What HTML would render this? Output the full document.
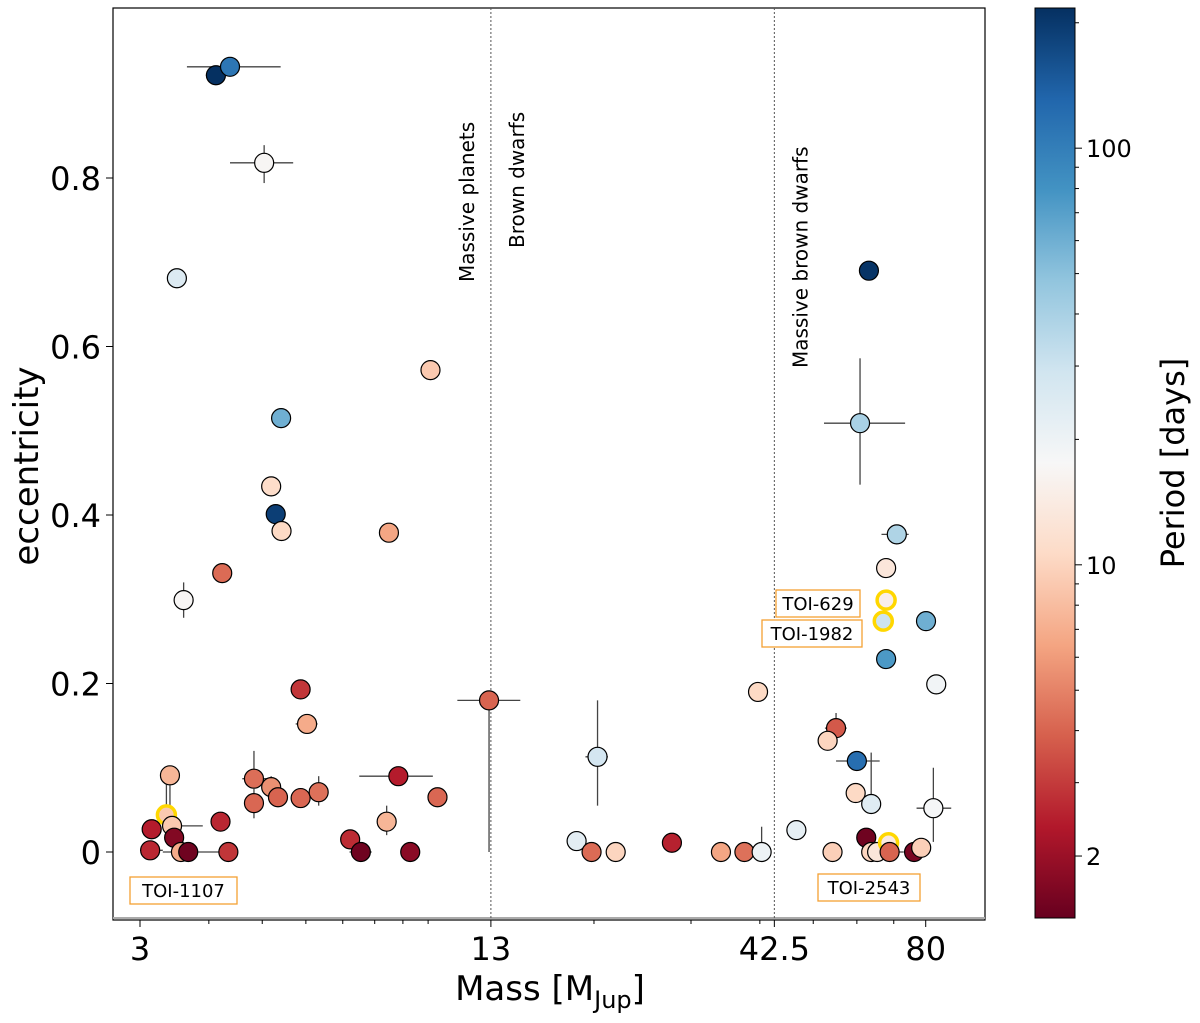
<!DOCTYPE html>
<html><head><meta charset="utf-8"><style>
body{margin:0;background:#fff;}
svg text{font-family:"DejaVu Sans","Liberation Sans",sans-serif;}
</style></head><body>
<svg id="c" width="1200" height="1018" xmlns="http://www.w3.org/2000/svg">
<defs>
<linearGradient id="cbg" x1="0" y1="1" x2="0" y2="0">
<stop offset="0" stop-color="#67001f"/><stop offset="0.1" stop-color="#b2182b"/><stop offset="0.2" stop-color="#d6604d"/><stop offset="0.3" stop-color="#f4a582"/><stop offset="0.4" stop-color="#fddbc7"/><stop offset="0.5" stop-color="#f7f7f7"/><stop offset="0.6" stop-color="#d1e5f0"/><stop offset="0.7" stop-color="#92c5de"/><stop offset="0.8" stop-color="#4393c3"/><stop offset="0.9" stop-color="#2166ac"/><stop offset="1" stop-color="#053061"/>
</linearGradient>
</defs>
<g id="plot"></g>
</svg>
<script>
const masses=[4.12,4.37,5.04,3.50,63.1,60.8,5.41,10.1,5.19,5.29,5.42,8.49,4.23,3.60,70.9,67.8,67.8,67.0,80.1,67.8,83.6,5.87,6.03,12.9,39.7,55.0,53.1,60.0,20.3,59.7,63.7,82.6,3.40,3.35,3.43,3.15,3.46,3.13,3.56,3.67,4.34,4.20,4.83,4.83,5.19,5.34,5.87,6.33,7.22,7.55,8.41,8.83,9.28,10.4,18.6,19.8,21.9,27.7,34.0,37.5,40.3,46.6,54.2,62.4,63.7,65.3,68.5,68.8,76.2,78.5];
const eccs=[0.922,0.932,0.818,0.681,0.690,0.509,0.515,0.572,0.434,0.401,0.381,0.379,0.331,0.299,0.377,0.337,0.299,0.274,0.274,0.229,0.199,0.193,0.152,0.180,0.190,0.147,0.132,0.108,0.113,0.070,0.057,0.052,0.091,0.044,0.031,0.027,0.017,0.002,0,0,0,0.036,0.087,0.058,0.077,0.065,0.064,0.071,0.015,0,0.036,0.090,0,0.065,0.013,0,0,0.011,0,0,0,0.026,0,0.017,0,0,0.011,0,0,0.005];
const periods=[217,110,17,25,210,40,60,9,11,190,10.5,6.5,4.2,17,38,13,15,30,60,75,19,2.9,6.8,4,10.5,3.7,10,120,28,10.5,24,18,7.5,9,9,2.4,1.7,2.6,6.8,1.5,2.9,2.6,4.3,4.1,5.5,4.0,4.1,4.4,2.7,1.5,7.5,2.4,1.8,4.1,23,4.2,10,2.5,6.5,4.4,20,22,9.5,1.5,10,13,14,4,1.6,9.5];
const ringIdx=[16,17,33,66];
// errors: [index, mlo, mhi, elo, ehi]
const errs=[[0,3.95,4.3,0.922,0.922],[1,3.65,5.40,0.932,0.932],[2,4.37,5.69,0.794,0.839],[3,3.40,3.62,0.681,0.681],[13,3.60,3.60,0.278,0.320],[5,52.3,73.4,0.436,0.586],[14,66.5,74.5,0.377,0.377],[20,80.5,87,0.199,0.199],[22,5.75,6.3,0.152,0.152],[23,11.3,14.7,0,0.180],[28,19.3,21.2,0.055,0.18],[25,52.5,57.5,0.128,0.165],[27,55,66,0.108,0.108],[30,63.7,63.7,0.057,0.118],[31,77,89,0.012,0.1],[51,7.5,10.2,0.090,0.090],[42,4.6,5.1,0.087,0.12],[43,4.83,4.83,0.04,0.075],[44,5.19,5.19,0.077,0.09],[47,6.33,6.33,0.055,0.09],[50,8.41,8.41,0.02,0.055],[53,10.0,10.8,0.065,0.065],[33,3.35,3.35,0.044,0.08],[34,3.43,3.9,0.031,0.031],[37,3.0,3.3,0.002,0.002],[38,3.3,4.5,0,0],[49,7.2,7.9,0,0],[35,3.12,3.2,0.027,0.027],[60,40.3,40.3,0,0.03],[61,45.5,47.5,0.026,0.026],[32,3.40,3.40,0.05,0.091],[63,61,64,0.017,0.017],[67,63,73,0,0],[69,76,81,0.005,0.005]];
const xTicks=[3,13,42.5,80];
const xTickLabels=["3","13","42.5","80"];
const yTicks=[0,0.2,0.4,0.6,0.8];
const yTickLabels=["0","0.2","0.4","0.6","0.8"];
const cTicks=[100,10,2];
const cTickLabels=["100","10","2"];
const vLines=[13,42.5];
const regionLabels=[{t:"Massive planets",m:13,side:-1,end:282},{t:"Brown dwarfs",m:13,side:1,end:248},{t:"Massive brown dwarfs",m:42.5,side:1,end:368}];
const toiLabels=[{t:"TOI-1107",bx:130,by:877,w:107},{t:"TOI-629",bx:776,by:590,w:84},{t:"TOI-1982",bx:762,by:620,w:100},{t:"TOI-2543",bx:818,by:874,w:102}];

const NS="http://www.w3.org/2000/svg";
const X=m=>140+551*(Math.log10(m)-Math.log10(3));
const Y=e=>852-842.5*e;
const PMIN=1.42,PMAX=217;
const CY=p=>918-910*(Math.log10(p/PMIN)/Math.log10(PMAX/PMIN));
const stops=["#67001f","#b2182b","#d6604d","#f4a582","#fddbc7","#f7f7f7","#d1e5f0","#92c5de","#4393c3","#2166ac","#053061"].map(h=>[parseInt(h.substr(1,2),16),parseInt(h.substr(3,2),16),parseInt(h.substr(5,2),16)]);
function cmap(p){let t=Math.log10(p/PMIN)/Math.log10(PMAX/PMIN);t=Math.max(0,Math.min(1,t))*10;const i=Math.min(9,Math.floor(t)),f=t-i;const a=stops[i],b=stops[i+1];return`rgb(${a.map((v,k)=>Math.round(v+(b[k]-v)*f)).join(",")})`;}
const g=document.getElementById('plot');
function el(tag,attrs,parent){const e=document.createElementNS(NS,tag);for(const k in attrs)e.setAttribute(k,attrs[k]);(parent||g).appendChild(e);return e;}

const frame=el('rect',{x:113,y:8,width:872,height:912,fill:'#fff',stroke:'#000','stroke-width':1.2});


el('line',{x1:113,y1:918,x2:985,y2:918,stroke:'#aaa','stroke-width':2});
vLines.forEach(m=>{const l=el('line',{x1:X(m),y1:8,x2:X(m),y2:920,stroke:'#555','stroke-width':1,'stroke-dasharray':'2,2'});

});
regionLabels.forEach(r=>{const x=X(r.m)+r.side*25;const t=el('text',{x:0,y:0,transform:`translate(${x+8},${r.end}) rotate(-90)`,'font-size':20,fill:'#000'});t.textContent=r.t;

});
// ticks
xTicks.forEach((m,i)=>{el('line',{x1:X(m),y1:920,x2:X(m),y2:927,stroke:'#000'});const t=el('text',{x:X(m),y:960,'font-size':32,'text-anchor':'middle'});t.textContent=xTickLabels[i];

});
[4,5,6,7,8,9,10,20,30,40,50,60,70].forEach(m=>el('line',{x1:X(m),y1:920,x2:X(m),y2:924,stroke:'#000'}));
yTicks.forEach((v,i)=>{el('line',{x1:106,y1:Y(v),x2:113,y2:Y(v),stroke:'#000'});const t=el('text',{x:101,y:Y(v)+12,'font-size':32,'text-anchor':'end'});t.textContent=yTickLabels[i];

});
const xl=el('text',{x:550,y:1000,'font-size':34,'text-anchor':'middle'});xl.innerHTML='Mass [M<tspan font-size="24" dy="8">Jup</tspan><tspan dy="-8">]</tspan>';


const yl=el('text',{x:0,y:0,transform:'translate(38,466) rotate(-90)','font-size':34,'text-anchor':'middle'});yl.textContent='eccentricity';


// error bars
errs.forEach(r=>{const[i,ml,mh,el_,eh]=r;const cx=X(masses[i]),cy=Y(eccs[i]);
if(mh>ml)el('line',{x1:X(ml),y1:cy,x2:X(mh),y2:cy,stroke:'#444','stroke-width':1.3});
if(eh>el_)el('line',{x1:cx,y1:Y(el_),x2:cx,y2:Y(eh),stroke:'#444','stroke-width':1.3});});
// points
masses.forEach((m,i)=>{const ring=ringIdx.includes(i);const c=el('circle',{cx:X(m),cy:Y(eccs[i]),r:ring?9:9.5,fill:cmap(periods[i]),stroke:ring?'#ffd700':'#000','stroke-width':ring?3.5:1.2});

});
toiLabels.forEach(l=>{el('rect',{x:l.bx,y:l.by,width:l.w,height:27,fill:'#fff',stroke:'#f5a033','stroke-width':1.3});const t=el('text',{x:l.bx+l.w/2,y:l.by+20,'font-size':18,'text-anchor':'middle'});t.textContent=l.t;

});
// colorbar
const cb=el('rect',{x:1035,y:8,width:40,height:910,fill:'url(#cbg)',stroke:'#000','stroke-width':1});


cTicks.forEach((p,i)=>{el('line',{x1:1075,y1:CY(p),x2:1082,y2:CY(p),stroke:'#000'});const t=el('text',{x:1086,y:CY(p)+9,'font-size':24});t.textContent=cTickLabels[i];

});
[3,4,5,6,7,8,9,20,30,40,50,60,70,80,90,200].forEach(p=>el('line',{x1:1075,y1:CY(p),x2:1079,y2:CY(p),stroke:'#000'}));
const cl=el('text',{x:0,y:0,transform:'translate(1184,463) rotate(-90)','font-size':32,'text-anchor':'middle'});cl.textContent='Period [days]';


</script>
</body></html>
